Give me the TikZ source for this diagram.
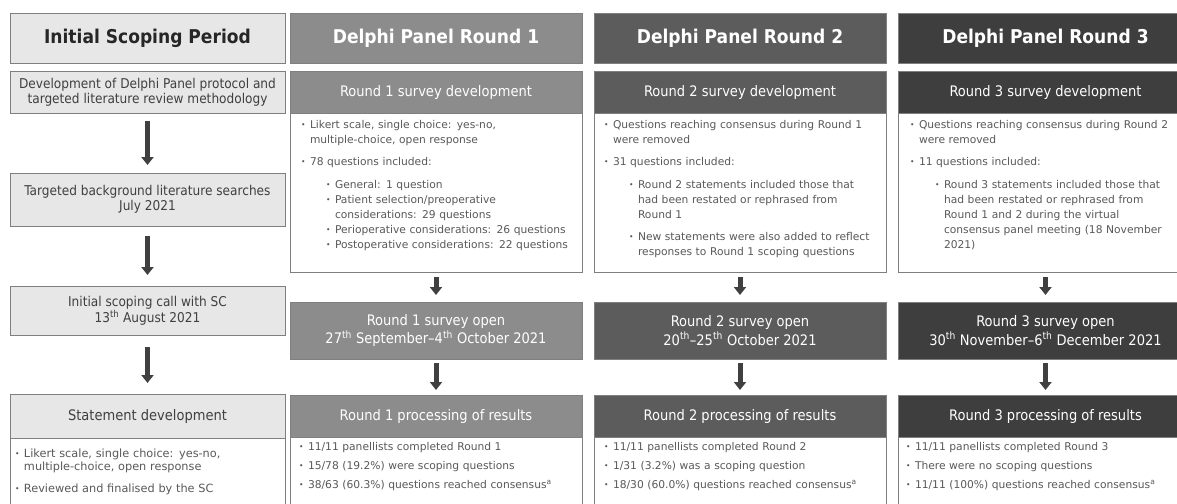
\documentclass[tikz,border=0pt]{standalone}
\usepackage{fontspec}
\setmainfont{DejaVu Sans}
\IfFontExistsTF{DejaVu Sans Condensed}
 {\newfontfamily\tfont[Ligatures=TeX]{DejaVu Sans Condensed}}
 {\newfontfamily\tfont[FakeStretch=0.9,Ligatures=TeX]{DejaVu Sans}}
\usetikzlibrary{arrows.meta}
\definecolor{cone}{HTML}{E7E7E7}
\definecolor{ctwo}{HTML}{8C8C8C}
\definecolor{cthree}{HTML}{5C5C5C}
\definecolor{cfour}{HTML}{3E3E3E}
\definecolor{edgegray}{HTML}{7F7F7F}
\definecolor{bodytxt}{HTML}{595959}
\definecolor{darktxt}{HTML}{404040}
\definecolor{arrgray}{HTML}{404040}
\newcommand\bmark{\raisebox{0.6pt}{\fontsize{7.5}{7.5}\selectfont •}}
\newcommand\nl{\unskip\nobreak\hfil\break}
\newcommand\itm[1]{\noindent\hangindent=9pt\hangafter=1\makebox[9pt][l]{\bmark}#1\par}
\newcommand\sitm[1]{\noindent\hangindent=34pt\hangafter=1\hspace*{25pt}\makebox[9pt][l]{\bmark}#1\par}
\tikzset{
  every node/.style={inner sep=0pt, outer sep=0pt},
  boxnode/.style={draw=edgegray, line width=0.9pt, anchor=north west, align=center},
  hdr/.style={boxnode, minimum height=50pt, font=\tfont\bfseries\fontsize{19}{22}\selectfont},
  cbox/.style={boxnode, fill=cone, text=darktxt, minimum width=275pt, font=\tfont\fontsize{13.5}{15}\selectfont},
  band/.style={boxnode, text=white, font=\tfont\fontsize{14.5}{17}\selectfont},
  openbox/.style={boxnode, text=white, minimum height=57pt, font=\tfont\fontsize{14.5}{18.5}\selectfont},
  bodybox/.style={draw=edgegray, line width=0.9pt, fill=white, anchor=north west},
  body/.style={anchor=base west, text width=285pt, align=left, text=bodytxt, font=\fontsize{10.7}{15}\selectfont},
  bigarr/.style={draw=arrgray, line width=5pt, -{Triangle[width=12pt,length=8pt]}},
}
\begin{document}
\begin{tikzpicture}[x=1pt,y=-1pt]
\fill[white] (0,0) rectangle (1177,503);
\useasboundingbox (0,0) rectangle (1177,503);
\clip (0,0) rectangle (1177,503);

% headers
\node[hdr, fill=cone, text=black!85, minimum width=275pt] (h1) at (10,13) {Initial Scoping Period};
\node[hdr, fill=ctwo, text=white, minimum width=292pt] (h2) at (290,13) {Delphi Panel Round 1};
\node[hdr, fill=cthree, text=white, minimum width=292pt] (h3) at (594,13) {Delphi Panel Round 2};
\node[hdr, fill=cfour, text=white, minimum width=295pt] (h4) at (898,13) {Delphi Panel Round 3};

% column 1
\node[cbox, minimum height=42pt] (a1) at (10,71) {Development of Delphi Panel protocol and\\targeted literature review methodology};
\node[cbox, minimum height=53pt] (a2) at (10,173) {Targeted background literature searches\\July 2021};
\node[cbox, minimum height=49pt] (a3) at (10,286) {Initial scoping call with SC\\13\textsuperscript{th} August 2021};
\node[bodybox, minimum width=275pt, minimum height=130pt] (a4box) at (10,394) {};
\node[band, fill=cone, text=darktxt, minimum width=275pt, minimum height=44pt] (a4) at (10,394) {Statement development};
\node[body, font=\fontsize{11.3}{13}\selectfont] (a4t) at (15,457) {%
\itm{Likert scale, single choice: yes-no,\nl multiple-choice, open response}\vspace{9pt}
\itm{Reviewed and finalised by the SC}};

% column 2
\node[bodybox, minimum width=292pt, minimum height=201pt] (d2box) at (290,71) {};
\node[band, fill=ctwo, minimum width=292pt, minimum height=42pt] (d2) at (290,71) {Round 1 survey development};
\node[body] (d2t) at (301,128) {%
\itm{Likert scale, single choice: yes-no,\nl multiple-choice, open response}\vspace{7pt}
\itm{78 questions included:}\vspace{8pt}
\sitm{General: 1 question}
\sitm{Patient selection/preoperative\nl considerations: 29 questions}
\sitm{Perioperative considerations: 26 questions}
\sitm{Postoperative considerations: 22 questions}};
\node[openbox, fill=ctwo, minimum width=292pt] (o2) at (290,302) {Round 1 survey open\\27\textsuperscript{th} September–4\textsuperscript{th} October 2021};
\node[bodybox, minimum width=292pt, minimum height=130pt] (p2box) at (290,395) {};
\node[band, fill=ctwo, minimum width=292pt, minimum height=42pt] (p2) at (290,395) {Round 1 processing of results};
\node[body] (p2t) at (299,450) {%
\itm{11/11 panellists completed Round 1}\vspace{4pt}
\itm{15/78 (19.2\%) were scoping questions}\vspace{4pt}
\itm{38/63 (60.3\%) questions reached consensus\textsuperscript{a}}};

% column 3
\node[bodybox, minimum width=292pt, minimum height=201pt] (d3box) at (594,71) {};
\node[band, fill=cthree, minimum width=292pt, minimum height=42pt] (d3) at (594,71) {Round 2 survey development};
\node[body] (d3t) at (604,128) {%
\itm{Questions reaching consensus during Round 1\nl were removed}\vspace{7pt}
\itm{31 questions included:}\vspace{8pt}
\sitm{Round 2 statements included those that\nl had been restated or rephrased from\nl Round 1}\vspace{7pt}
\sitm{New statements were also added to reflect\nl responses to Round 1 scoping questions}};
\node[openbox, fill=cthree, minimum width=292pt] (o3) at (594,302) {Round 2 survey open\\20\textsuperscript{th}–25\textsuperscript{th} October 2021};
\node[bodybox, minimum width=292pt, minimum height=130pt] (p3box) at (594,395) {};
\node[band, fill=cthree, minimum width=292pt, minimum height=42pt] (p3) at (594,395) {Round 2 processing of results};
\node[body] (p3t) at (604,450) {%
\itm{11/11 panellists completed Round 2}\vspace{4pt}
\itm{1/31 (3.2\%) was a scoping question}\vspace{4pt}
\itm{18/30 (60.0\%) questions reached consensus\textsuperscript{a}}};

% column 4
\node[bodybox, minimum width=295pt, minimum height=201pt] (d4box) at (898,71) {};
\node[band, fill=cfour, minimum width=295pt, minimum height=42pt] (d4) at (898,71) {Round 3 survey development};
\node[body] (d4t) at (910,128) {%
\itm{Questions reaching consensus during Round 2\nl were removed}\vspace{7pt}
\itm{11 questions included:}\vspace{8pt}
\sitm{Round 3 statements included those that\nl had been restated or rephrased from\nl Round 1 and 2 during the virtual\nl consensus panel meeting (18 November\nl 2021)}};
\node[openbox, fill=cfour, minimum width=295pt] (o4) at (898,302) {Round 3 survey open\\30\textsuperscript{th} November–6\textsuperscript{th} December 2021};
\node[bodybox, minimum width=295pt, minimum height=130pt] (p4box) at (898,395) {};
\node[band, fill=cfour, minimum width=295pt, minimum height=42pt] (p4) at (898,395) {Round 3 processing of results};
\node[body] (p4t) at (906,450) {%
\itm{11/11 panellists completed Round 3}\vspace{4pt}
\itm{There were no scoping questions}\vspace{4pt}
\itm{11/11 (100\%) questions reached consensus\textsuperscript{a}}};

% arrows
\draw[bigarr, shorten <=8pt, shorten >=8pt] (a1.south) -- (a2.north);
\draw[bigarr, shorten <=10pt, shorten >=11pt] (a2.south) -- (a3.north);
\draw[bigarr, shorten <=12pt, shorten >=11pt] (a3.south) -- (a4.north);
\foreach \c in {2,3,4}{
  \draw[bigarr, shorten <=5pt, shorten >=7pt] (d\c box.south) -- (o\c.north);
  \draw[bigarr, shorten <=4pt, shorten >=5pt] (o\c.south) -- (p\c.north);
}
\end{tikzpicture}
\end{document}
